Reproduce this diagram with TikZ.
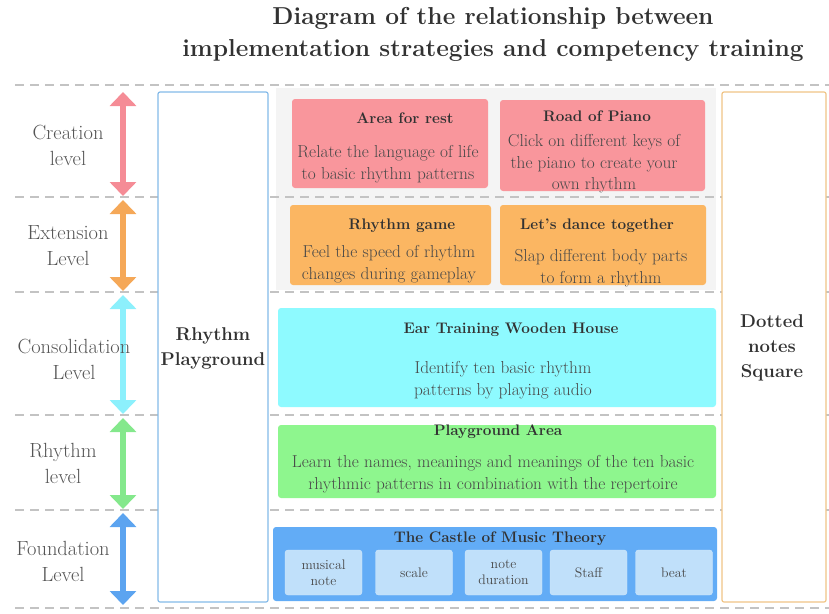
\documentclass[tikz,border=0pt]{standalone}
\usetikzlibrary{arrows.meta}
\definecolor{sepgray}{RGB}{195,195,195}
\definecolor{backgray}{RGB}{244,244,244}
\definecolor{lvltext}{RGB}{85,85,85}
\definecolor{darktext}{RGB}{50,50,50}
\definecolor{bodytext}{RGB}{72,72,72}
\definecolor{pinkarr}{RGB}{245,140,150}
\definecolor{orangearr}{RGB}{245,168,88}
\definecolor{cyanarr}{RGB}{140,240,252}
\definecolor{greenarr}{RGB}{132,232,140}
\definecolor{bluearr}{RGB}{92,164,240}
\definecolor{pinkfill}{RGB}{249,150,156}
\definecolor{orangefill}{RGB}{251,182,98}
\definecolor{cyanfill}{RGB}{142,250,255}
\definecolor{greenfill}{RGB}{142,246,142}
\definecolor{bluefill}{RGB}{98,172,246}
\definecolor{subfill}{RGB}{192,224,250}
\definecolor{leftline}{RGB}{132,186,232}
\definecolor{rightline}{RGB}{240,196,134}

\begin{document}
\begin{tikzpicture}[x=1pt,y=-1pt,
    sep/.style={draw=sepgray,line width=1.1pt,dash pattern=on 9pt off 6pt},
    span/.style={line width=6pt,{Triangle[width=26pt,length=14pt]}-{Triangle[width=26pt,length=14pt]}},
    lvl/.style={text=lvltext,font=\fontsize{20.5}{26}\selectfont,align=center},
    column/.style={draw,line width=1.2pt,fill=white,rounded corners=2pt,inner sep=0pt},
    coltitle/.style={text=darktext,font=\bfseries\fontsize{18.5}{25}\selectfont,align=center},
    card/.style={rounded corners=3pt,inner sep=0pt},
    cardtitle/.style={text=darktext,font=\bfseries\fontsize{15.3}{18}\selectfont,align=center},
    cardbody/.style={text=bodytext,font=\fontsize{17.3}{21.5}\selectfont,align=center},
    small/.style={card,fill=subfill,draw=subfill!70!white,minimum width=77pt,minimum height=45pt,
      text=bodytext,font=\fontsize{13.8}{16}\selectfont,align=center}]
  \useasboundingbox (0,0) rectangle (829,613);

  % title
  \node[text=darktext,font=\bfseries\fontsize{24.5}{32}\selectfont,align=center] (title) at (493,34)
    {Diagram of the relationship between\\implementation strategies and competency training};

  % background of the two upper levels
  \fill[backgray] (276,88) rectangle (716,290);

  % level separators
  \foreach \y in {85,197,292,415,510,608}
    \draw[sep] (15,\y) -- (829,\y);

  % level spans
  \coordinate (b0) at (123,92);  \coordinate (b1) at (123,196);
  \coordinate (b2) at (123,200); \coordinate (b3) at (123,291);
  \coordinate (b4) at (123,295); \coordinate (b5) at (123,414);
  \coordinate (b6) at (123,418); \coordinate (b7) at (123,509);
  \coordinate (b8) at (123,513); \coordinate (b9) at (123,605);
  \draw[span,pinkarr] (b0) -- (b1);
  \draw[span,orangearr] (b2) -- (b3);
  \draw[span,cyanarr] (b4) -- (b5);
  \draw[span,greenarr] (b6) -- (b7);
  \draw[span,bluearr] (b8) -- (b9);

  \node[lvl] (creation) at (68,145) {Creation\\level};
  \node[lvl] (extension) at (68,246) {Extension\\Level};
  \node[lvl] (consolidation) at (74,359) {Consolidation\\Level};
  \node[lvl] (rhythm) at (63,463) {Rhythm\\level};
  \node[lvl] (foundation) at (63,561) {Foundation\\Level};

  % side columns
  \node[column,draw=leftline,minimum width=110pt,minimum height=510pt] (playground) at (213,347) {};
  \node[coltitle] (pgtitle) at (213,348) {Rhythm\\Playground};
  \node[column,draw=rightline,minimum width=104pt,minimum height=510pt] (dotted) at (774,347) {};
  \node[coltitle] (dttitle) at (772,348) {Dotted\\notes\\Square};

  % creation level
  \node[card,fill=pinkfill,minimum width=196pt,minimum height=89pt] (rest) at (390,143.5) {};
  \node[cardtitle] (resttitle) at (405,118) {Area for rest};
  \node[cardbody] (restbody) at (388,164) {Relate the language of life\\to basic rhythm patterns};
  \node[card,fill=pinkfill,minimum width=205pt,minimum height=91pt] (piano) at (602.5,145.5) {};
  \node[cardtitle] (pianotitle) at (597,116) {Road of Piano};
  \node[cardbody] (pianobody) at (594,164) {Click on different keys of\\the piano to create your\\own rhythm};

  % extension level
  \node[card,fill=orangefill,minimum width=201pt,minimum height=80pt] (game) at (390.5,245) {};
  \node[cardtitle] (gametitle) at (402,226) {Rhythm game};
  \node[cardbody] (gamebody) at (389,264) {Feel the speed of rhythm\\changes during gameplay};
  \node[card,fill=orangefill,minimum width=206pt,minimum height=80pt] (dance) at (603,245) {};
  \node[cardtitle] (dancetitle) at (597,226) {Let's dance together};
  \node[cardbody] (dancebody) at (601,268) {Slap different body parts\\to form a rhythm};

  % consolidation level
  \node[card,fill=cyanfill,minimum width=438pt,minimum height=99pt] (house) at (497,357.5) {};
  \node[cardtitle] (housetitle) at (511,330) {Ear Training Wooden House};
  \node[cardbody] (housebody) at (503,380) {Identify ten basic rhythm\\patterns by playing audio};

  % rhythm level
  \node[card,fill=greenfill,minimum width=438pt,minimum height=73pt] (area) at (497,461.5) {};
  \node[cardtitle] (areatitle) at (498,432) {Playground Area};
  \node[cardbody] (areabody) at (493,474) {Learn the names, meanings and meanings of the ten basic\\rhythmic patterns in combination with the repertoire};

  % foundation level
  \node[card,fill=bluefill,minimum width=444pt,minimum height=74pt] (castle) at (495,564) {};
  \node[cardtitle] (castletitle) at (500,539) {The Castle of Music Theory};
  \node[small] (note) at (323.5,572.5) {musical\\note};
  \node[small] (scale) at (414,572.5) {scale};
  \node[small] (duration) at (503.5,572.5) {note\\duration};
  \node[small] (staff) at (588.5,572.5) {Staff};
  \node[small] (beat) at (674,572.5) {beat};
\end{tikzpicture}
\end{document}
